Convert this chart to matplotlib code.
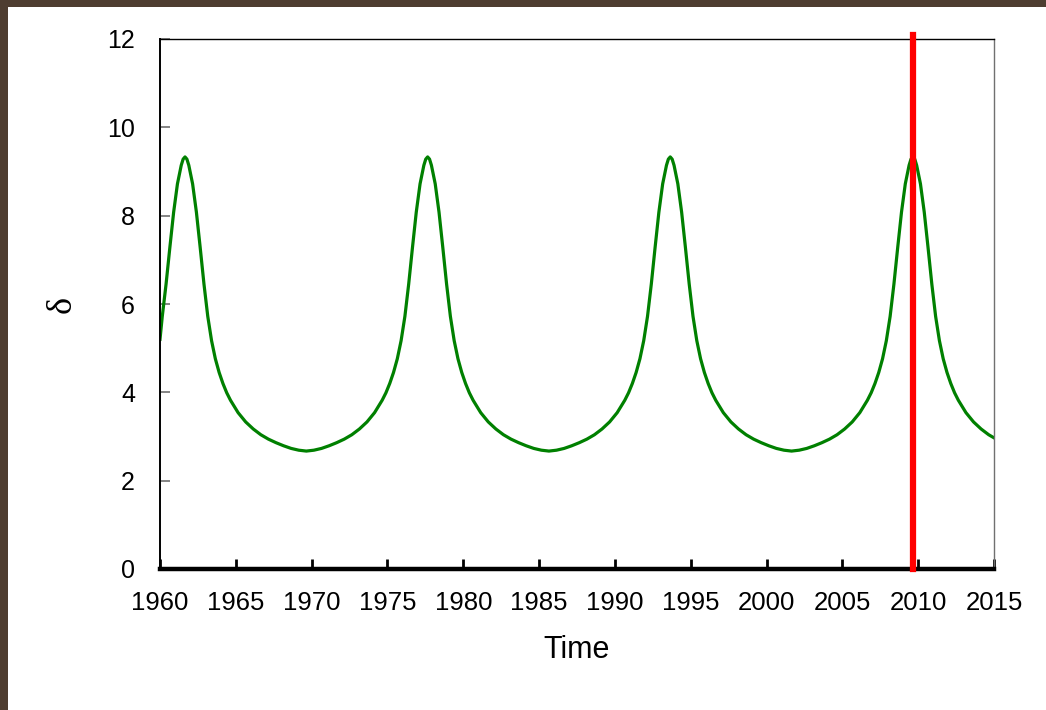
import matplotlib
matplotlib.use("Agg")
import matplotlib.pyplot as plt
from matplotlib.patches import Rectangle

# values
years = [
    1960.00, 1960.15, 1960.40, 1960.65, 1960.90, 1961.15, 1961.40, 1961.525, 1961.65,
    1961.775, 1961.90, 1962.15, 1962.40, 1962.65, 1962.90, 1963.15, 1963.40, 1963.65,
    1963.90, 1964.15, 1964.40, 1964.65, 1965.15, 1965.65, 1966.15, 1966.65, 1967.15,
    1967.65, 1968.15, 1968.65, 1969.15, 1969.65,
    1970.15, 1970.65, 1971.15, 1971.65, 1972.15, 1972.65, 1973.15, 1973.65, 1974.15,
    1974.65, 1974.90, 1975.15, 1975.40, 1975.65, 1975.90, 1976.15, 1976.40, 1976.65,
    1976.90, 1977.15, 1977.40, 1977.525, 1977.65,
    1977.775, 1977.90, 1978.15, 1978.40, 1978.65, 1978.90, 1979.15, 1979.40, 1979.65,
    1979.90, 1980.15, 1980.40, 1980.65, 1981.15, 1981.65, 1982.15, 1982.65, 1983.15,
    1983.65, 1984.15, 1984.65, 1985.15, 1985.65,
    1986.15, 1986.65, 1987.15, 1987.65, 1988.15, 1988.65, 1989.15, 1989.65, 1990.15,
    1990.65, 1990.90, 1991.15, 1991.40, 1991.65, 1991.90, 1992.15, 1992.40, 1992.65,
    1992.90, 1993.15, 1993.40, 1993.525, 1993.65,
    1993.775, 1993.90, 1994.15, 1994.40, 1994.65, 1994.90, 1995.15, 1995.40, 1995.65,
    1995.90, 1996.15, 1996.40, 1996.65, 1997.15, 1997.65, 1998.15, 1998.65, 1999.15,
    1999.65, 2000.15, 2000.65, 2001.15, 2001.65,
    2002.15, 2002.65, 2003.15, 2003.65, 2004.15, 2004.65, 2005.15, 2005.65, 2006.15,
    2006.65, 2006.90, 2007.15, 2007.40, 2007.65, 2007.90, 2008.15, 2008.40, 2008.65,
    2008.90, 2009.15, 2009.40, 2009.525, 2009.65,
    2009.775, 2009.90, 2010.15, 2010.40, 2010.65, 2010.90, 2011.15, 2011.40, 2011.65,
    2011.90, 2012.15, 2012.40, 2012.65, 2013.15, 2013.65, 2014.15, 2014.65, 2015.00,
]
delta = [
    5.20, 5.72, 6.45, 7.28, 8.08, 8.72, 9.14, 9.28, 9.33,
    9.28, 9.14, 8.72, 8.08, 7.28, 6.45, 5.72, 5.17, 4.76,
    4.45, 4.20, 3.99, 3.82, 3.54, 3.33, 3.17, 3.04, 2.94,
    2.86, 2.79, 2.73, 2.69, 2.67,
    2.69, 2.73, 2.79, 2.86, 2.94, 3.04, 3.17, 3.33, 3.54,
    3.82, 3.99, 4.20, 4.45, 4.76, 5.17, 5.72, 6.45, 7.28,
    8.08, 8.72, 9.14, 9.28, 9.33,
    9.28, 9.14, 8.72, 8.08, 7.28, 6.45, 5.72, 5.17, 4.76,
    4.45, 4.20, 3.99, 3.82, 3.54, 3.33, 3.17, 3.04, 2.94,
    2.86, 2.79, 2.73, 2.69, 2.67,
    2.69, 2.73, 2.79, 2.86, 2.94, 3.04, 3.17, 3.33, 3.54,
    3.82, 3.99, 4.20, 4.45, 4.76, 5.17, 5.72, 6.45, 7.28,
    8.08, 8.72, 9.14, 9.28, 9.33,
    9.28, 9.14, 8.72, 8.08, 7.28, 6.45, 5.72, 5.17, 4.76,
    4.45, 4.20, 3.99, 3.82, 3.54, 3.33, 3.17, 3.04, 2.94,
    2.86, 2.79, 2.73, 2.69, 2.67,
    2.69, 2.73, 2.79, 2.86, 2.94, 3.04, 3.17, 3.33, 3.54,
    3.82, 3.99, 4.20, 4.45, 4.76, 5.17, 5.72, 6.45, 7.28,
    8.08, 8.72, 9.14, 9.28, 9.33,
    9.28, 9.14, 8.72, 8.08, 7.28, 6.45, 5.72, 5.17, 4.76,
    4.45, 4.20, 3.99, 3.82, 3.54, 3.33, 3.17, 3.04, 2.97,
]
marker_year = 2009.65
x_ticks = [1960, 1965, 1970, 1975, 1980, 1985, 1990, 1995, 2000, 2005, 2010, 2015]
y_ticks = [0, 2, 4, 6, 8, 10, 12]

plt.rcParams['font.family'] = ['Liberation Sans', 'DejaVu Sans']

fig = plt.figure(figsize=(10.46, 7.10), dpi=100)
ax = fig.add_axes([160 / 1046, 1 - 569 / 710, 834 / 1046, 530 / 710])

# dark frame on the top and left edges
fig.patches.append(Rectangle((0, 1 - 7 / 710), 1, 7 / 710, transform=fig.transFigure,
                             facecolor='#4e3d30', edgecolor='none'))
fig.patches.append(Rectangle((0, 0), 8 / 1046, 1, transform=fig.transFigure,
                             facecolor='#4e3d30', edgecolor='none'))

ax.plot(years, delta, color='#008000', linewidth=2.3, zorder=2)
ax.axvline(marker_year, ymin=0, ymax=1.008, color='#ff0000', linewidth=4.5,
           clip_on=False, zorder=3)

ax.set_xlim(1960, 2015)
ax.set_ylim(0, 12)
ax.set_xticks(x_ticks)
ax.set_yticks(y_ticks)

ax.spines['bottom'].set_linewidth(3.2)
ax.spines['left'].set_linewidth(1.4)
ax.spines['top'].set_linewidth(1.0)
ax.spines['right'].set_linewidth(1.0)
ax.spines['right'].set_color('#707070')

ax.tick_params(axis='x', direction='in', length=7, width=2, color='black',
               labelsize=18.5, pad=16)
ax.tick_params(axis='y', direction='in', length=7, width=1.2, color='#707070',
               labelsize=18, pad=18)

ax.set_xlabel('Time', fontsize=22)
ax.xaxis.set_label_coords(0.5, -0.124)
ax.set_ylabel('δ', fontsize=26, family=['Liberation Serif', 'DejaVu Serif'])
ax.yaxis.set_label_coords(-0.097, 0.5)

fig.savefig('out.png', dpi=100)
